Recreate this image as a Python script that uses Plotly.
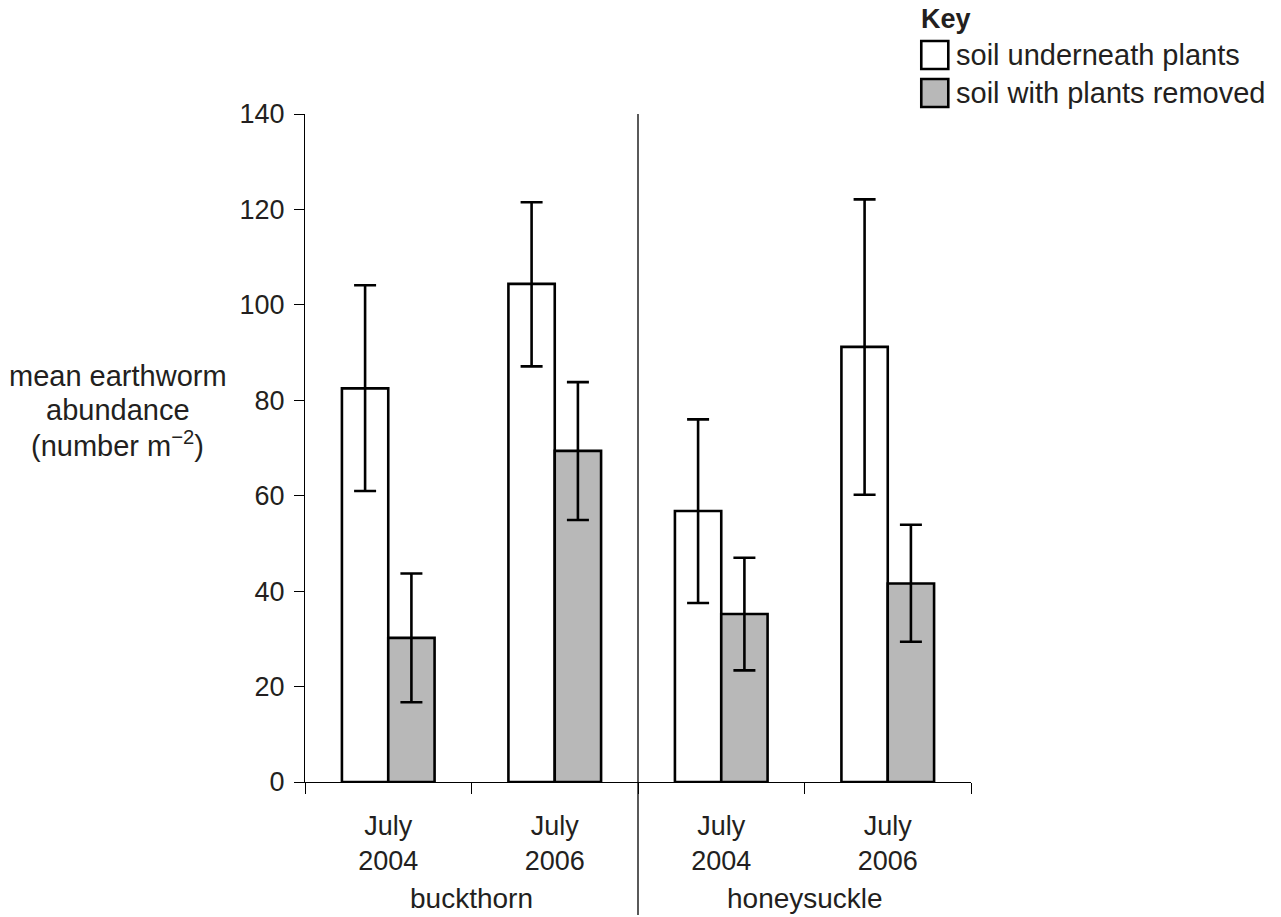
import plotly.graph_objects as go

# ---- data ----
date_labels = ["July<br>2004", "July<br>2006", "July<br>2004", "July<br>2006"]
species = ["buckthorn", "honeysuckle"]
series_names = ["soil underneath plants", "soil with plants removed"]
y_title_lines = ["mean earthworm", "abundance", "(number m<sup>\u22122</sup>)"]

under_mean = [82.5, 104.4, 56.8, 91.2]
under_upper = [104.1, 121.5, 76.0, 122.1]
under_lower = [61.0, 87.1, 37.5, 60.2]

removed_mean = [30.2, 69.4, 35.2, 41.6]
removed_upper = [43.7, 83.8, 47.0, 53.9]
removed_lower = [16.7, 54.9, 23.4, 29.4]

y_ticks = [0, 20, 40, 60, 80, 100, 120, 140]

# ---- layout geometry (page pixels) ----
W, H = 1281, 917
PL, PR, PT, PB = 305, 970.7, 114, 782


def px_x(px):
    return (px - PL) / (PR - PL)


def px_y(py):
    return (PB - py) / (PB - PT)


FONT = "Liberation Sans, Arial, Helvetica, sans-serif"
TXT = "#231f20"
GREY = "#b8b8b8"

xpos = [i + 0.5 for i in range(len(date_labels))]


def errs(mean, upper, lower):
    return [u - m for u, m in zip(upper, mean)], [m - l for m, l in zip(mean, lower)]


up1, lo1 = errs(under_mean, under_upper, under_lower)
up2, lo2 = errs(removed_mean, removed_upper, removed_lower)

fig = go.Figure()
fig.add_trace(go.Bar(
    x=xpos, y=under_mean, name=series_names[0],
    marker=dict(color="white", line=dict(color="black", width=2.6)),
    error_y=dict(type="data", symmetric=False, array=up1, arrayminus=lo1,
                 color="black", thickness=2.6, width=11),
    showlegend=False,
))
fig.add_trace(go.Bar(
    x=xpos, y=removed_mean, name=series_names[1],
    marker=dict(color=GREY, line=dict(color="black", width=2.6)),
    error_y=dict(type="data", symmetric=False, array=up2, arrayminus=lo2,
                 color="black", thickness=2.6, width=11),
    showlegend=False,
))

fig.update_layout(
    width=W, height=H,
    margin=dict(l=PL, r=W - PR, t=PT, b=H - PB, pad=0),
    paper_bgcolor="white", plot_bgcolor="white",
    font=dict(family=FONT, size=27, color=TXT),
    barmode="group", bargap=0.4435, bargroupgap=0,
    showlegend=False,
)

fig.update_xaxes(
    range=[0, len(date_labels)],
    tickmode="array", tickvals=xpos, ticktext=date_labels,
    ticks="", showgrid=False, zeroline=False,
    showline=True, linecolor="black", linewidth=1.3,
    ticklabelstandoff=19,
    minor=dict(tickmode="array", tickvals=list(range(len(date_labels) + 1)),
               ticks="outside", ticklen=11, tickwidth=1.3, tickcolor="black",
               showgrid=False),
    tickfont=dict(family=FONT, size=27, color=TXT),
)
fig.update_yaxes(
    range=[0, 140], tickmode="array", tickvals=y_ticks,
    ticks="outside", ticklen=10, tickwidth=1.3, tickcolor="black",
    showgrid=False, zeroline=False,
    showline=True, linecolor="black", linewidth=1.3,
    ticklabelstandoff=4,
    tickfont=dict(family=FONT, size=27, color=TXT),
)

# divider between species
fig.add_shape(type="line", xref="paper", yref="paper",
              x0=0.5, x1=0.5, y0=px_y(915), y1=1,
              line=dict(color="black", width=1.3))

annotations = []
for line, yc in zip(y_title_lines, [376, 410, 444]):
    annotations.append(dict(text=line, xref="paper", yref="paper",
                            x=px_x(118), y=px_y(yc), xanchor="center", yanchor="middle",
                            showarrow=False, font=dict(size=29)))
for name, xc in zip(species, [0.25, 0.75]):
    annotations.append(dict(text=name, xref="paper", yref="paper", x=xc, y=px_y(899),
                            xanchor="center", yanchor="middle", showarrow=False,
                            font=dict(size=28)))
annotations.append(dict(text="<b>Key</b>", xref="paper", yref="paper", x=px_x(919),
                        y=px_y(19), xanchor="left", yanchor="middle", showarrow=False,
                        font=dict(size=27)))
for name, yc in zip(series_names, [55, 93]):
    annotations.append(dict(text=name, xref="paper", yref="paper", x=px_x(954),
                            y=px_y(yc), xanchor="left", yanchor="middle",
                            showarrow=False, font=dict(size=29)))
fig.update_layout(annotations=annotations)

for fill, top, bot in [("white", 41, 69), (GREY, 79, 107)]:
    fig.add_shape(type="rect", xref="paper", yref="paper",
                  x0=px_x(921), x1=px_x(948), y0=px_y(bot), y1=px_y(top),
                  fillcolor=fill, line=dict(color="black", width=2.6))

fig.write_html(
    "out.html",
    config={"displayModeBar": False},
    post_script="document.body.style.margin='0';document.body.style.overflow='hidden';",
)
